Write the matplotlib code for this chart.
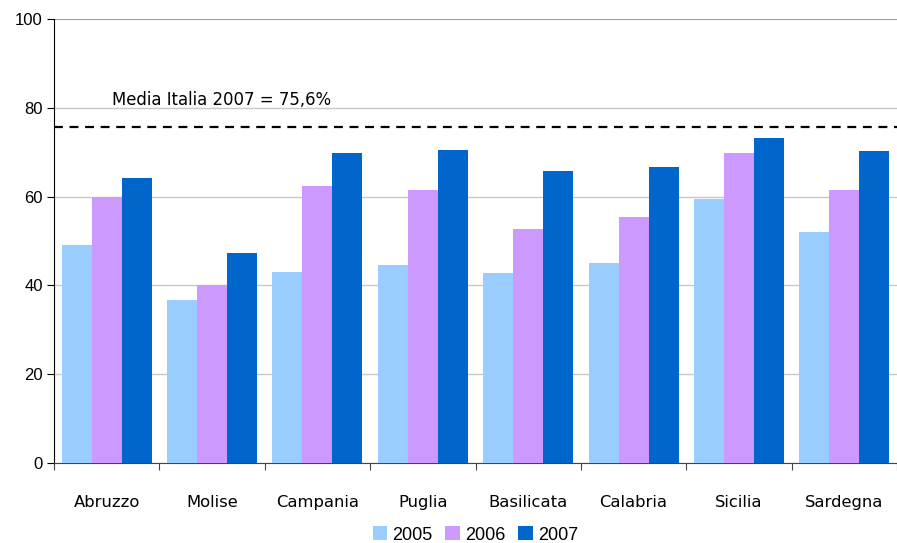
import matplotlib.pyplot as plt
import numpy as np

regioni = ['Abruzzo', 'Molise', 'Campania', 'Puglia', 'Basilicata',
           'Calabria', 'Sicilia', 'Sardegna']
anni = ['2005', '2006', '2007']
val_2005 = [49.0, 36.8, 43.1, 44.5, 42.9, 45.1, 59.4, 52.1]
val_2006 = [60.0, 40.0, 62.5, 61.4, 52.6, 55.3, 69.8, 61.4]
val_2007 = [64.1, 47.4, 69.8, 70.4, 65.7, 66.6, 73.1, 70.2]
media_italia = 75.6

colori = ['#99CCFF', '#CC99FF', '#0066CC']

fig = plt.figure(figsize=(8.97, 5.43), dpi=100)
ax = fig.add_axes([54/897, 1-463/543, 1-54/897, 444/543])

x = np.arange(len(regioni))
w = 0.285
for i, (serie, col, lab) in enumerate(zip([val_2005, val_2006, val_2007], colori, anni)):
    ax.bar(x + (i-1)*w, serie, width=w, color=col, label=lab, zorder=3)

# media nazionale
ax.axhline(media_italia, color='black', linestyle=(0, (4, 3)), linewidth=1.6, zorder=4)
ax.text(0.05, 80.7, 'Media Italia 2007 = 75,6%', fontsize=11.9, family='DejaVu Sans')

ax.set_ylim(0, 100)
ax.set_xlim(-0.5, 7.45)
ax.set_yticks(range(0, 101, 20))
ax.yaxis.grid(True, color='#C8C8C8', linewidth=1, zorder=0)
ax.set_axisbelow(True)
ax.set_xticks(np.arange(len(regioni)+1) - 0.5, minor=False)
ax.set_xticklabels([])
ax.set_xticks(x, minor=True)
ax.set_xticklabels(regioni, minor=True, fontsize=11.8, family='DejaVu Sans')
ax.tick_params(axis='x', which='minor', length=0, pad=23)
ax.tick_params(axis='x', which='major', length=5, color='#444444')
ax.tick_params(axis='y', length=5, labelsize=12, pad=3)
for t in ax.get_yticklabels():
    t.set_family('Liberation Sans')

for s in ['top', 'right']:
    ax.spines[s].set_visible(False)
ax.spines['left'].set_color('black')
ax.spines['bottom'].set_color('#444444')
ax.axhline(100, color='#999999', linewidth=1.2, zorder=2)

leg = ax.legend(loc='center', bbox_to_anchor=(0.5, -(535-463)/444), ncol=3,
                frameon=False, handlelength=0.8, handleheight=0.8,
                handletextpad=0.3, columnspacing=0.7, borderpad=0.1,
                prop={'family': 'Liberation Sans', 'size': 13})

fig.savefig('out.png', dpi=100)
